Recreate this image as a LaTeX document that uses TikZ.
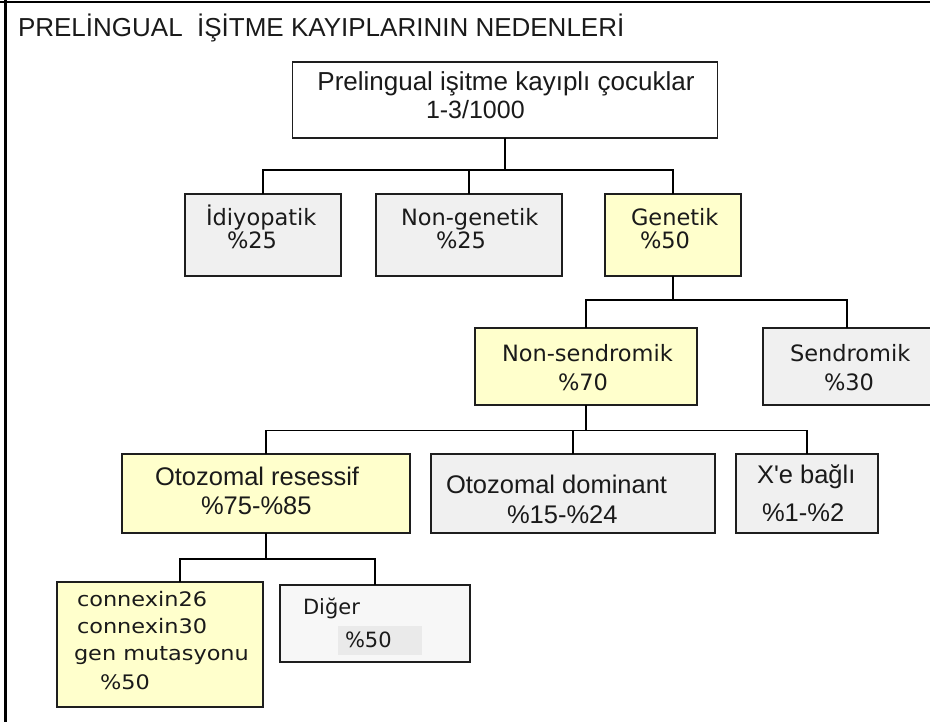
\documentclass[tikz,border=0pt]{standalone}
\usepackage{fontspec}
\setmainfont{Liberation Sans}
\newfontfamily\dv{DejaVu Sans}
\newfontfamily\dvw[FakeStretch=1.12]{DejaVu Sans}
\definecolor{yel}{HTML}{FFFFCC}
\definecolor{gry}{HTML}{F0F0F0}
\definecolor{lgry}{HTML}{F7F7F7}
\definecolor{patch}{HTML}{EAEAEA}
\definecolor{edge}{HTML}{1E1E1E}
\definecolor{ink}{HTML}{1A1A1A}
\tikzset{
  boxbase/.style={draw=edge, line width=1.4pt, inner sep=0pt, outer sep=0pt, rectangle},
  whitebox/.style={boxbase, fill=white},
  graybox/.style={boxbase, fill=gry},
  yelbox/.style={boxbase, fill=yel},
  lightbox/.style={boxbase, fill=lgry},
  conn/.style={draw=black, line width=1.4pt},
  txt/.style={inner sep=0pt, outer sep=0pt, text=ink},
  arialtxt/.style={txt, font=\fontsize{25.5}{29}\selectfont},
  dvtxt/.style={txt, font=\dv\fontsize{22.5}{27}\selectfont},
  dvwtxt/.style={txt, font=\dvw\fontsize{20}{24}\selectfont},
  dvstxt/.style={txt, font=\dv\fontsize{21}{25}\selectfont},
}
\begin{document}
\begin{tikzpicture}[x=1pt, y=-1pt]
\useasboundingbox (0,0) rectangle (930,722);
\clip (0,0) rectangle (930,722);
% frame (top and left)
\draw[line width=2.6pt, draw=black] (0,2.2) -- (930,2.2);
\draw[line width=2.6pt, draw=black] (5.5,0) -- (5.5,722);
% title
\node[txt, anchor=base west, font=\fontsize{26}{30}\selectfont] (title) at (18,37) {PRELİNGUAL~ İŞİTME KAYIPLARININ NEDENLERİ};

% boxes
\node[whitebox, minimum width=425pt, minimum height=76pt] (root) at (505,100) {};
\node[graybox, minimum width=156pt, minimum height=82pt] (idio) at (263,235) {};
\node[graybox, minimum width=186pt, minimum height=82pt] (nongen) at (469,235) {};
\node[yelbox, minimum width=136pt, minimum height=82pt] (gen) at (673,235) {};
\node[yelbox, minimum width=222pt, minimum height=77pt] (nonsend) at (586,366.5) {};
\node[graybox, minimum width=184pt, minimum height=77pt] (send) at (855,366.5) {};
\node[yelbox, minimum width=288pt, minimum height=79pt] (orec) at (266,493.5) {};
\node[graybox, minimum width=284pt, minimum height=79pt] (odom) at (573,493.5) {};
\node[graybox, minimum width=142pt, minimum height=79pt] (xlink) at (807,493.5) {};
\node[yelbox, minimum width=206pt, minimum height=125pt] (cx) at (160,644.5) {};
\node[lightbox, minimum width=190pt, minimum height=77pt] (diger) at (375,623.5) {};
\node[fill=patch, inner sep=0pt, minimum width=84pt, minimum height=29pt] (patchbg) at (380,640.5) {};

% connectors
\draw[conn] (root.south) -- ++(0,32) coordinate (b1);
\draw[conn] (idio.north) |- (b1) -| (gen.north);
\draw[conn] (nongen.north) -- (nongen.north |- b1);
\draw[conn] (gen.south) -- ++(0,24) coordinate (b2);
\coordinate (sc) at (847,300);
\draw[conn] (nonsend.north) |- (b2) -- (sc) -- (sc |- send.north);
\draw[conn] (nonsend.south) -- ++(0,25.5) coordinate (b3);
\draw[conn] (orec.north) |- (b3) -| (xlink.north);
\draw[conn] (odom.north) -- (odom.north |- b3);
\coordinate (c5) at (180,559);
\draw[conn] (orec.south) -- (orec.south |- c5);
\draw[conn] (c5 |- cx.north) -- (c5) -- (diger.north |- c5) -- (diger.north);

% texts
\node[txt, anchor=base, font=\fontsize{26}{30}\selectfont] (rt1) at (506,91) {Prelingual işitme kayıplı çocuklar};
\node[txt, anchor=base west, font=\fontsize{25}{30}\selectfont] (rt2) at (426,119) {1-3/1000};

\node[dvtxt, anchor=base west] (it1) at (206,226) {İdiyopatik};
\node[dvtxt, anchor=base west] (it2) at (227,249) {\%25};
\node[dvtxt, anchor=base west] (ng1) at (401,226) {Non-genetik};
\node[dvtxt, anchor=base west] (ng2) at (436,249) {\%25};
\node[dvtxt, anchor=base west] (gt1) at (631,226) {Genetik};
\node[dvtxt, anchor=base west] (gt2) at (640,249) {\%50};

\node[dvtxt, anchor=base west] (ns1) at (502,362) {Non-sendromik};
\node[dvtxt, anchor=base west] (ns2) at (558,390) {\%70};
\node[dvtxt, anchor=base west] (sd1) at (790,362) {Sendromik};
\node[dvtxt, anchor=base west] (sd2) at (824,390) {\%30};

\node[arialtxt, anchor=base west] (or1) at (155,485) {Otozomal resessif};
\node[arialtxt, anchor=base west] (or2) at (201,514) {\%75-\%85};
\node[arialtxt, anchor=base west] (od1) at (446,493) {Otozomal dominant};
\node[arialtxt, anchor=base west] (od2) at (507,523) {\%15-\%24};
\node[arialtxt, anchor=base west] (xl1) at (757,483) {X\textquotesingle e bağlı};
\node[arialtxt, anchor=base west] (xl2) at (762,521) {\%1-\%2};

\node[dvwtxt, anchor=base west] (cx1) at (77,606) {connexin26};
\node[dvwtxt, anchor=base west] (cx2) at (77,633) {connexin30};
\node[dvwtxt, anchor=base west] (cx3) at (74,660) {gen mutasyonu};
\node[dvwtxt, anchor=base west] (cx4) at (100,689) {\%50};

\node[dvstxt, anchor=base west] (dg1) at (303,614) {Diğer};
\node[dvstxt, anchor=base west] (dg2) at (345,647) {\%50};
\end{tikzpicture}
\end{document}
